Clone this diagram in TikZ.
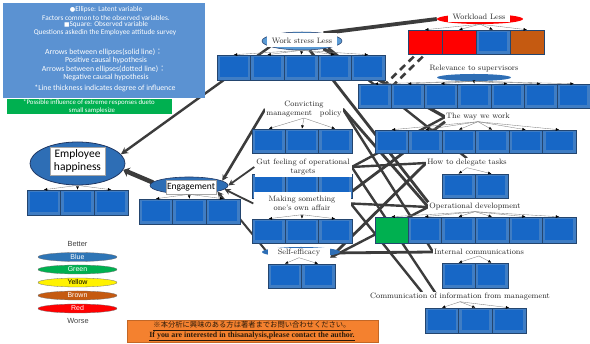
\documentclass[tikz,border=0pt]{standalone}
\usepackage{fontspec}
\usetikzlibrary{shapes.geometric,arrows.meta,backgrounds}
\newfontfamily\carl{Carlito}
\newfontfamily\arl{Liberation Sans}
\newfontfamily\tms{Liberation Serif}
\newfontfamily\djv{DejaVu Sans}
\newfontfamily\cjk{Noto Sans CJK JP}
\definecolor{legblue}{HTML}{5B92D2}
\definecolor{leggreen}{HTML}{00B050}
\definecolor{boxout}{HTML}{3F7DC4}
\definecolor{boxin}{HTML}{1767C6}
\definecolor{boxline}{HTML}{23456F}
\definecolor{ellblue}{HTML}{2E6EB5}
\definecolor{ellline}{HTML}{203864}
\definecolor{lightell}{HTML}{5B9BD5}
\definecolor{lnc}{HTML}{3C3C3C}
\definecolor{brownc}{HTML}{C55A11}
\definecolor{orangec}{HTML}{F4812F}
\definecolor{ytxt}{HTML}{2A1A0A}
\definecolor{lgblue}{HTML}{2E75B6}

\newcommand\obsrow[7][obs]{%
  \foreach \i in {1,...,#5}{%
    \node[#1, minimum width=#6pt, minimum height=#7pt] (#2\i) at ({#3+(\i-0.5)*#6},{#4+#7/2}) {};
  }}
\newcommand\fanout[3]{\foreach \i in {1,...,#3}{\draw[ind] (#1) -- (#2\i.north);}}

\begin{document}
\begin{tikzpicture}[x=1pt,y=-1pt,
  obs/.style={rectangle, draw=boxline, line width=0.5pt, fill=boxout, inner sep=0pt,
    path picture={\fill[boxin] ([shift={(3pt,-2.5pt)}]path picture bounding box.north west) rectangle ([shift={(-3pt,2.5pt)}]path picture bounding box.south east);}},
  flatbox/.style={rectangle, draw=boxline, line width=0.5pt, inner sep=0pt},
  ind/.style={draw=black!50, line width=0.35pt, -{Latex[length=3.4pt,width=2.8pt,color=black]}},
  lat/.style={font=\fontsize{7.8}{8.6}\selectfont, fill=white, inner sep=1pt, align=center, text=black!85},
  legt/.style={text=white, font=\carl\fontsize{7.3}{7.5}\selectfont, inner sep=0pt},
  legtb/.style={text=white, font=\carl\fontsize{7.8}{8}\selectfont, inner sep=0pt},
  legtg/.style={text=white, font=\carl\fontsize{6.8}{7.5}\selectfont, inner sep=0pt},
  conn/.style={draw=lnc, line width=#1},
  conn/.default=2pt,
  legell/.style={ellipse, minimum width=79pt, minimum height=9pt, inner sep=0pt, draw=black!55, line width=0.3pt},
  legtxt/.style={font=\arl\fontsize{7}{7}\selectfont, inner sep=0pt, text=white},
  tipA/.style={-{Stealth[length=6pt,width=6pt]}}
]
\useasboundingbox (0,0) rectangle (590,344);

% ---------- legend box ----------
\node[fill=legblue, minimum width=202pt, minimum height=95pt, inner sep=0pt, anchor=north west] (legbox) at (3,3) {};
\node[legt] (l1) at (106,10) {{\djv\fontsize{6.3}{6}\selectfont ●}Ellipse: Latent variable};
\node[legt] (l2) at (106,17.5) {Factors common to the observed variables.};
\node[legt] (l3) at (106,25) {{\djv\fontsize{5.8}{6}\selectfont ■}Square: Observed variable};
\node[legt] (l4) at (105,33) {Questions askedin the Employee attitude survey};
\node[legtb] (l5) at (104,52) {Arrows between ellipses(solid line){\cjk ：}};
\node[legtb] (l6) at (106,60.5) {Positive causal hypothesis};
\node[legtb] (l7) at (104,69) {Arrows between ellipses(dotted line){\cjk ：}};
\node[legtb] (l8) at (106,77.5) {Negative causal hypothesis};
\node[legtb] (l9) at (105,88) {*Line thickness indicates degree of influence};

\node[fill=leggreen, minimum width=165pt, minimum height=15pt, inner sep=0pt, anchor=north west] (gbox) at (7,99) {};
\node[legtg] (g1) at (89,103) {*Possible influence of extreme responses dueto};
\node[legtg] (g2) at (92,111) {small samplesize};

% ---------- latent variables ----------
\node[ellipse, fill=ellblue, draw=ellline, line width=0.8pt, minimum width=95pt, minimum height=43pt, inner sep=0pt] (eh) at (77.5,163.5) {};
\node[fill=white, draw=black!35, line width=0.3pt, minimum width=55pt, minimum height=28pt, inner sep=0pt, align=center, font=\carl\fontsize{11.5}{13}\selectfont] (ehl) at (77.5,161) {Employee\\happiness};

\node[ellipse, fill=ellblue, draw=ellline, line width=0.6pt, minimum width=78pt, minimum height=17pt, inner sep=0pt] (en) at (189,185.5) {};
\node[fill=white, draw=black!35, line width=0.3pt, minimum width=50pt, minimum height=14pt, inner sep=0pt, font=\carl\fontsize{9.5}{10}\selectfont] (enl) at (191,187) {Engagement};

\node[ellipse, fill=lightell, draw=ellline, line width=0.5pt, minimum width=80pt, minimum height=18pt, inner sep=0pt] (ws) at (302,41) {};
\node[lat, minimum width=70pt, minimum height=14pt] (wsl) at (302,40.5) {Work stress Less};

\node[ellipse, fill=red, minimum width=86pt, minimum height=10pt, inner sep=0pt] (wle) at (480,19) {};
\node[lat, minimum width=62pt, minimum height=11pt] (wl) at (479,17) {Workload Less};

\node[ellipse, fill=ellblue, minimum width=74pt, minimum height=7pt, inner sep=0pt] (rse) at (474,77.5) {};
\node[lat] (rs) at (474,69) {Relevance to supervisors};

\node[ellipse, fill=ellblue, minimum width=78pt, minimum height=10pt, inner sep=0pt] (see) at (301,252) {};

\node[lat] (cm) at (304,109) {Convicting\\management\hspace{1em}policy};
\node[lat] (ww) at (478,117) {The way we work};
\node[lat] (dt) at (467,163) {How to delegate tasks};
\node[lat] (od) at (475,207) {Operational development};
\node[lat] (ic) at (479,252) {Internal communications};
\node[lat] (ci) at (460,297) {Communication of information from management};

% ---------- observed variables ----------
\obsrow{beh}{27}{190}{3}{33.7}{25}
\obsrow{ben}{139}{199}{3}{33.7}{25}
\obsrow{bws}{217}{55}{5}{33.6}{25}
\node[flatbox, fill=red, minimum width=34pt, minimum height=24pt] (bwl1) at (425,42) {};
\node[flatbox, fill=red, minimum width=34pt, minimum height=24pt] (bwl2) at (459,42) {};
\node[obs, minimum width=34pt, minimum height=24pt] (bwl3) at (493,42) {};
\node[flatbox, fill=brownc, minimum width=34pt, minimum height=24pt] (bwl4) at (527,42) {};
\obsrow{brs}{358}{84}{7}{33.2}{24}
\obsrow{bww}{375}{130}{6}{33.5}{23}
\obsrow{bcm}{252}{129}{3}{33.3}{24}
\obsrow{bgf}{252}{174}{3}{33.3}{24}
\obsrow{bms}{252}{219}{3}{33.3}{24}
\obsrow{bse}{268}{264}{2}{33.5}{24}
\obsrow{bdt}{442}{174}{2}{33}{24}
\node[flatbox, fill=leggreen, minimum width=33pt, minimum height=26pt] (odg) at (391.5,230) {};
\obsrow{bod}{408}{217}{5}{33.6}{26}
\obsrow{bic}{442}{263}{2}{33}{25}
\obsrow{bci}{425}{308}{3}{33.7}{25}

% labels drawn over boxes
\node[lat, minimum width=97pt, minimum height=21pt] (gf) at (303,167) {Gut feeling of operational\\targets};
\node[lat, minimum width=97pt, minimum height=22pt] (ms) at (302,203.5) {Making something\\one's own affair};
\node[lat, minimum width=62pt] (se) at (299,253) {Self-efficacy};

% ---------- indicator arrows ----------
\fanout{eh.south}{beh}{3}
\fanout{en.south}{ben}{3}
\fanout{ws.south}{bws}{5}
\fanout{wle.south}{bwl}{4}
\fanout{rse.south}{brs}{7}
\fanout{cm.south}{bcm}{3}
\fanout{ms.south}{bms}{3}
\fanout{se.south}{bse}{2}
\fanout{ww.south}{bww}{6}
\fanout{dt.south}{bdt}{2}
\draw[ind] (od.south) -- (odg.north);
\fanout{od.south}{bod}{5}
\fanout{ic.south}{bic}{2}
\fanout{ci.south}{bci}{3}

% ---------- causal paths ----------
\coordinate (d1a) at (440,40);
\coordinate (d1b) at (380,98);
\coordinate (d2a) at (431,40);
\coordinate (d2b) at (371,98);
\begin{scope}[on background layer]
\fill[white] (0,0) rectangle (590,344);
\draw[conn=2.4pt, -{Stealth[length=7pt,width=7pt]}] (ws.190) -- (eh.12);
\draw[conn=4.5pt, line cap=round, -{Stealth[length=6pt,width=10pt]}] (en.175) -- (eh.-8);
\draw[conn=3.8pt] (ws.20) -- (wle.west);
\draw[conn=2.6pt, dash pattern=on 7pt off 5pt] (d1a) -- (d1b);
\draw[conn=2.6pt, dash pattern=on 7pt off 5pt] (d2a) -- (d2b);
\draw[conn=2.6pt, tipA] (cm.west) -- (en.8);
\draw[conn=1.8pt, tipA] (gf.west) -- (en.0);
\draw[conn=1.8pt, tipA] (ms.west) -- (en.-6);
\draw[conn=2pt, tipA] (se.west) -- (en.-12);
\draw[conn=3.2pt] (ws.-20) -- (ww.west);
\draw[conn=2.4pt] (gf.east) -- (ww.west);
\draw[conn=2.8pt] (ws.-50) -- (od.north west);
\draw[conn=2.4pt] (ws.-15) -- (dt.north);
\draw[conn=2.8pt] (cm.east) -- (od.west);
\draw[conn=2.4pt] (cm.east) -- (ic.west);
\draw[conn=2.4pt] (gf.east) -- ([xshift=-25pt]ci.north);
\draw[conn=2.4pt] (ms.east) -- ([xshift=-38pt]ci.north);
\draw[conn=2.8pt, tipA] (dt.west) -- (se.south east);
\draw[conn=2.4pt, tipA] (od.west) -- (se.south east);
\draw[conn=2.8pt] (ww.south west) -- (ms.north east);
\draw[conn=2.4pt] (gf.east) -- (dt.west);
\draw[conn=2.4pt] (ms.east) -- (od.west);
\draw[conn=2.8pt] (se.east) -- (ic.west);
\end{scope}

% ---------- colour legend ----------
\node[font=\arl\fontsize{7.4}{8}\selectfont, text=black!75, inner sep=0pt] (better) at (77.5,244) {Better};
\node[legell, fill=lgblue] (lgb) at (77.5,257) {};
\node[legell, fill=leggreen] (lgg) at (77.5,269.5) {};
\node[legell, fill=yellow] (lgy) at (77.5,282.5) {};
\node[legell, fill=brownc] (lgbr) at (77.5,295.5) {};
\node[legell, fill=red] (lgr) at (77.5,308.5) {};
\node[legtxt] (tb) at (lgb) {Blue};
\node[legtxt] (tg) at (lgg) {Green};
\node[legtxt, text=black] (ty) at (lgy) {Yellow};
\node[legtxt] (tbr) at (lgbr) {Brown};
\node[legtxt] (tr) at (lgr) {Red};
\node[font=\arl\fontsize{7.4}{8}\selectfont, text=black!75, inner sep=0pt] (worse) at (78,321) {Worse};

% ---------- contact box ----------
\node[fill=orangec, draw=orangec!80!black, line width=0.3pt, minimum width=251pt, minimum height=22pt, inner sep=0pt, anchor=north west] (ob) at (127,320) {};
\node[inner sep=0pt, text=ytxt, font=\cjk\fontsize{7.3}{8}\selectfont] (ot1) at (252,326) {\underline{※本分析に興味のある方は著者までお問い合わせください。}};
\node[inner sep=0pt, text=ytxt, font=\tms\bfseries\fontsize{7.9}{8}\selectfont] (ot2) at (252,336.5) {\underline{If you are interested in thisanalysis,please contact the author.}};
\end{tikzpicture}
\end{document}
